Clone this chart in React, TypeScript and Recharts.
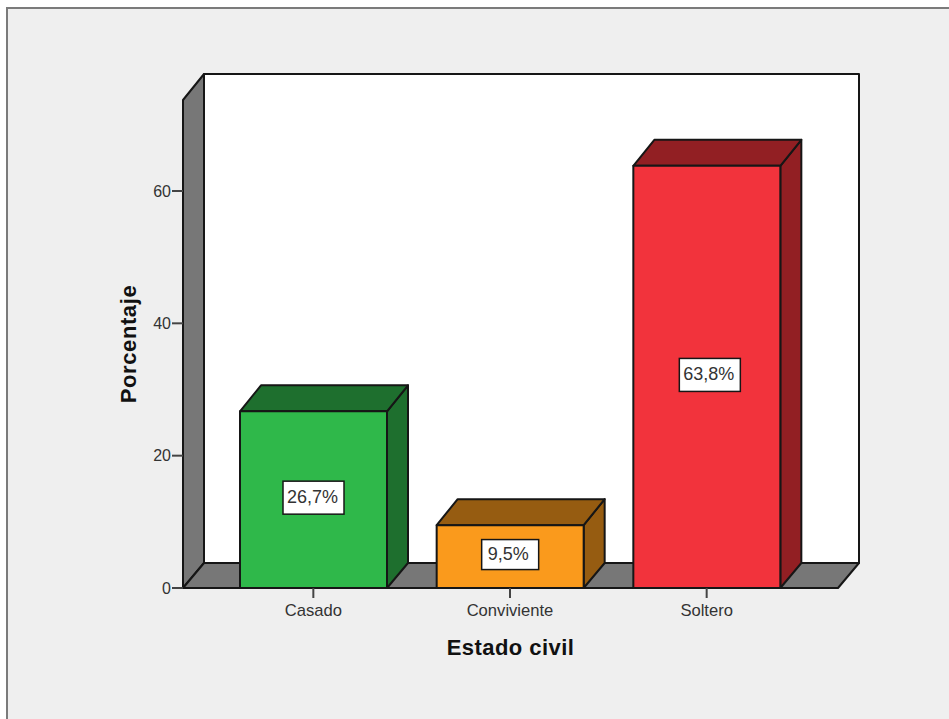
import { Bar, BarChart, LabelList, XAxis, YAxis, usePlotArea } from 'recharts';

// ─── Data ─────────────────────────────────────────────────────────────────────

const categories = ['Casado', 'Conviviente', 'Soltero'];
const percentages = [26.7, 9.5, 63.8];
const yTicks = [0, 20, 40, 60];
const yMax = 73.75;

const frontColors = ['#2fb84a', '#fa9a1c', '#f2333c'];
const sideColors = ['#1e6f2e', '#965c11', '#921f23'];

const chartData = categories.map((name, i) => ({ name, value: percentages[i] }));

// ─── Layout ───────────────────────────────────────────────────────────────────

const DEPTH_X = 21;
const DEPTH_Y = 25;
const TOP_DEPTH_Y = 26;
const LINE = '#161616';
const WALL = '#777777';
const TEXT = '#333333';
const FONT = '"Liberation Sans", Arial, sans-serif';

// La etiqueta de la tercera barra no queda centrada en el original
const LABEL_SHIFT_X = [0, 0, 3];

function formatPercent(value: number): string {
  return `${value.toFixed(1).replace('.', ',')}%`;
}

// Pared, fondo y piso del cubo 3D
function Walls() {
  const plot = usePlotArea();
  if (!plot) return null;
  const { x, y, width, height } = plot;
  const bottom = y + height;
  const right = x + width;
  return (
    <g stroke={LINE} strokeWidth={2} strokeLinejoin="round">
      <rect x={x + DEPTH_X} y={y - TOP_DEPTH_Y} width={width} height={height + 1} fill="#ffffff" />
      <polygon
        points={`${x},${y} ${x + DEPTH_X},${y - TOP_DEPTH_Y} ${x + DEPTH_X},${bottom - DEPTH_Y} ${x},${bottom}`}
        fill={WALL}
      />
      <polygon
        points={`${x},${bottom} ${x + DEPTH_X},${bottom - DEPTH_Y} ${right + DEPTH_X},${bottom - DEPTH_Y} ${right},${bottom}`}
        fill={WALL}
      />
    </g>
  );
}

function Bar3D(props: any) {
  const { x, y, width, height, index } = props;
  const right = x + width;
  const bottom = y + height;
  return (
    <g stroke={LINE} strokeWidth={2} strokeLinejoin="round">
      <polygon
        points={`${right},${y} ${right + DEPTH_X},${y - TOP_DEPTH_Y} ${right + DEPTH_X},${bottom - DEPTH_Y} ${right},${bottom}`}
        fill={sideColors[index]}
      />
      <polygon
        points={`${x},${y} ${x + DEPTH_X},${y - TOP_DEPTH_Y} ${right + DEPTH_X},${y - TOP_DEPTH_Y} ${right},${y}`}
        fill={sideColors[index]}
      />
      <rect x={x} y={y} width={width} height={height} fill={frontColors[index]} />
    </g>
  );
}

function ValueLabel(props: any) {
  const { x, y, width, height, value, index } = props;
  const text = formatPercent(value);
  const isShort = text.length < 5;
  const boxWidth = isShort ? 57 : 61;
  const boxHeight = isShort ? 30 : 33;
  const cx = x + width / 2 + (LABEL_SHIFT_X[index] ?? 0);
  const cy = y + height / 2 - 2;
  return (
    <g>
      <rect
        x={cx - boxWidth / 2}
        y={cy - boxHeight / 2}
        width={boxWidth}
        height={boxHeight}
        fill="#ffffff"
        stroke={LINE}
        strokeWidth={1.5}
      />
      <text
        x={isShort ? cx - 2 : cx - 1}
        y={cy + 5}
        textAnchor="middle"
        fontFamily={FONT}
        fontSize={18}
        fill={TEXT}
      >
        {text}
      </text>
    </g>
  );
}

export default function App() {
  return (
    <div style={{ position: 'absolute', left: 0, top: 0, width: 949, height: 719, background: '#ffffff', overflow: 'hidden' }}>
      <div
        style={{
          position: 'absolute',
          left: 6,
          top: 7,
          width: 943,
          height: 712,
          boxSizing: 'border-box',
          background: '#efefef',
          borderLeft: '2px solid #7b7b7b',
          borderTop: '2px solid #7b7b7b',
        }}
      />
      <BarChart
        width={949}
        height={719}
        data={chartData}
        margin={{ top: 100, right: 111, bottom: 0, left: 0 }}
        style={{ position: 'absolute', left: 0, top: 0 }}
      >
        <Walls />
        <XAxis
          dataKey="name"
          height={131}
          padding={{ left: 32, right: 33 }}
          axisLine={false}
          tickSize={10}
          tickMargin={6}
          tickLine={{ stroke: '#444444', strokeWidth: 2 }}
          tick={{ fill: TEXT, fontSize: 16.6, fontFamily: FONT }}
          interval={0}
          label={{
            value: 'Estado civil',
            position: 'insideBottom',
            offset: 64,
            fill: '#111111',
            fontSize: 22,
            fontWeight: 700,
            fontFamily: FONT,
            letterSpacing: 0.45,
          }}
        />
        <YAxis
          width={183}
          domain={[0, yMax]}
          ticks={yTicks}
          axisLine={false}
          tickSize={11}
          tickMargin={1}
          tickLine={{ stroke: '#444444', strokeWidth: 2 }}
          tick={{ fill: TEXT, fontSize: 16, fontFamily: FONT }}
          label={{
            value: 'Porcentaje',
            angle: -90,
            position: 'insideLeft',
            offset: 128,
            fill: '#111111',
            fontSize: 22,
            fontWeight: 700,
            fontFamily: FONT,
            letterSpacing: 0.6,
            style: { textAnchor: 'middle' },
          }}
        />
        <Bar dataKey="value" barSize={147} shape={<Bar3D />} isAnimationActive={false}>
          <LabelList dataKey="value" content={<ValueLabel />} />
        </Bar>
      </BarChart>
    </div>
  );
}
